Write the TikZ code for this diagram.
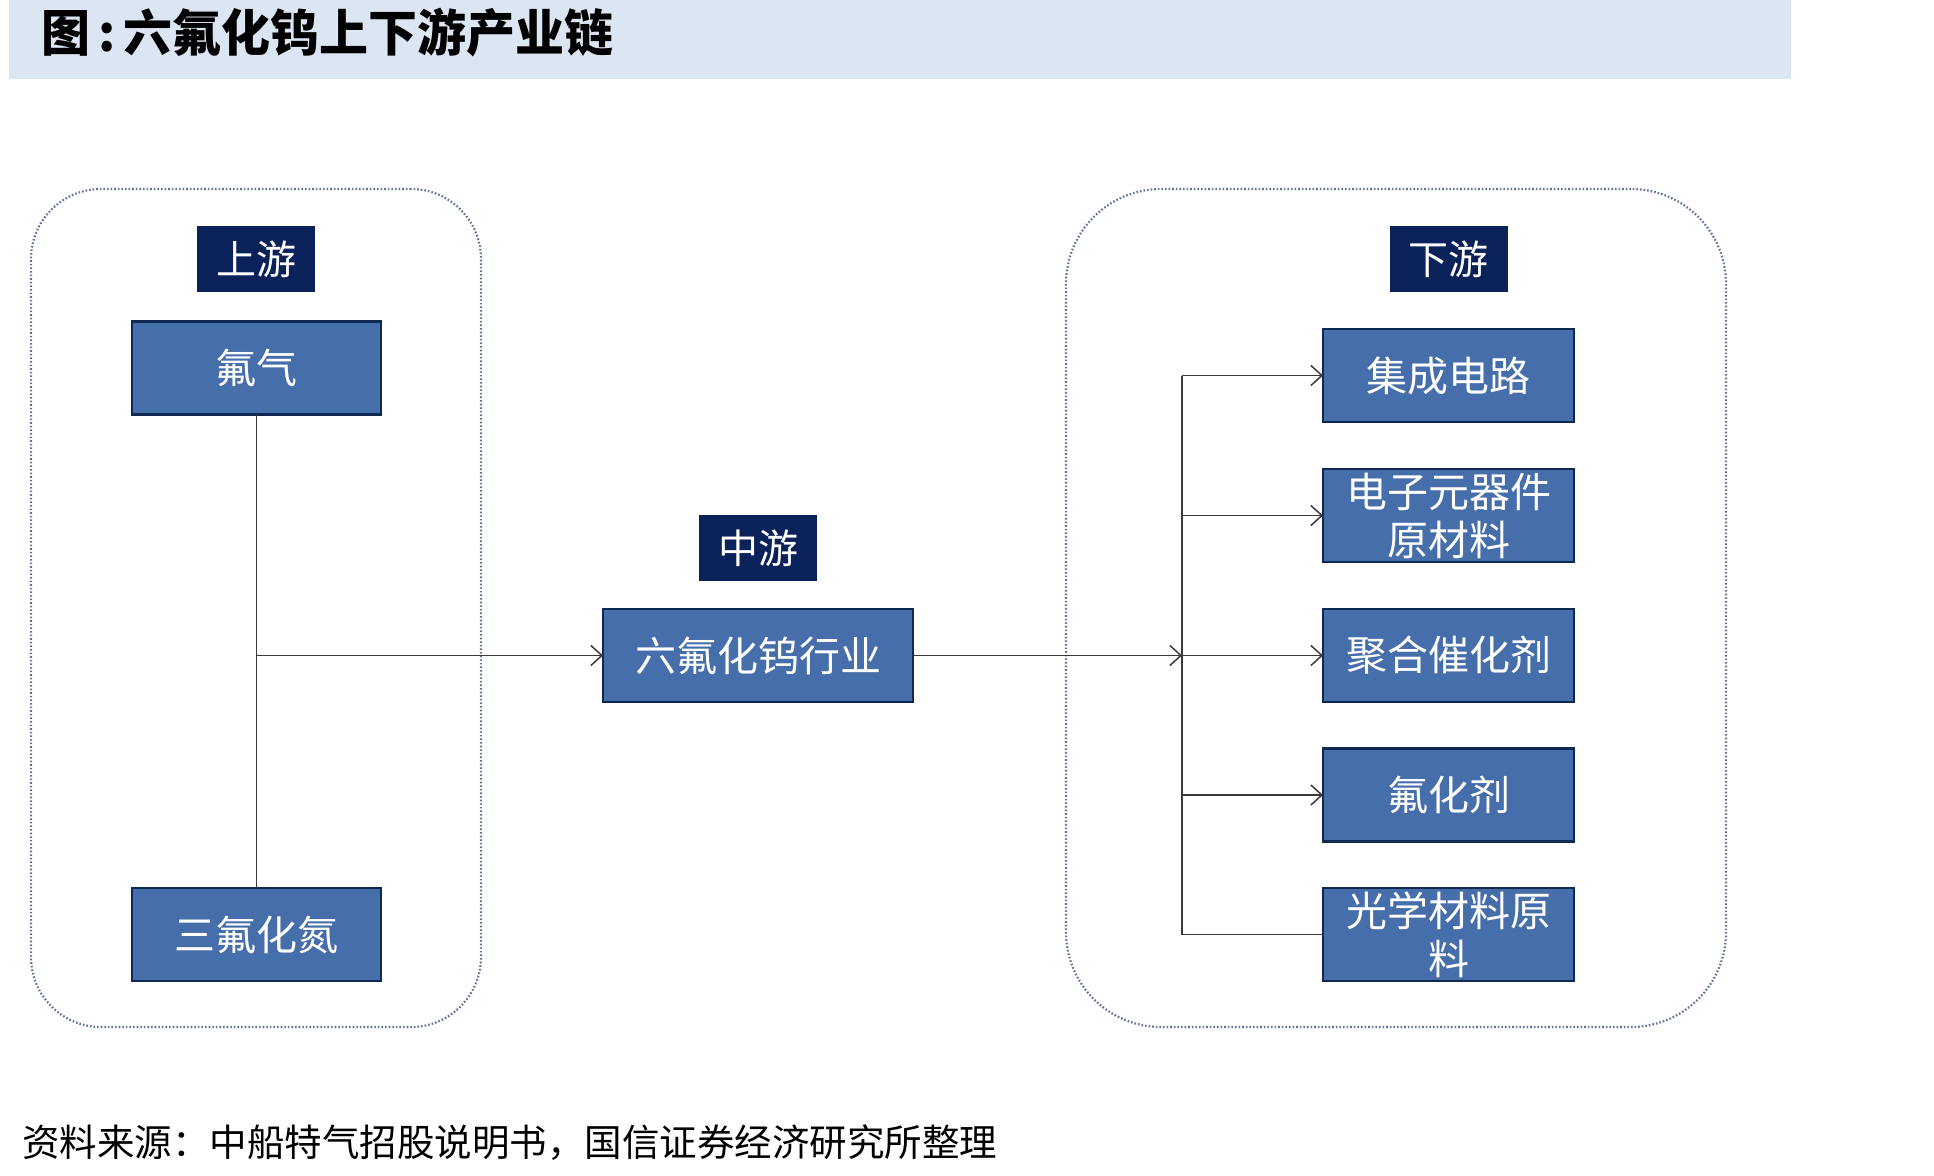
\documentclass[tikz,border=0pt]{standalone}
\usepackage{fontspec}
\newfontfamily\cjk{Noto Sans CJK SC}
\usetikzlibrary{arrows.meta}
\definecolor{band}{HTML}{DCE6F2}
\definecolor{boxfill}{HTML}{466EAA}
\definecolor{boxedge}{HTML}{0E2A52}
\definecolor{navy}{HTML}{0A215A}
\definecolor{dotcol}{HTML}{5F7396}
\definecolor{linecol}{HTML}{3A3A3A}
\begin{document}
\begin{tikzpicture}[x=1pt,y=-1pt,
  box/.style={draw=boxedge, line width=2.5pt, fill=boxfill, minimum width=249pt, minimum height=93pt, inner sep=0pt, outer sep=0pt, text=white, font=\cjk\fontsize{41}{48}\selectfont, align=center},
  lab/.style={fill=navy, minimum width=118pt, minimum height=66pt, inner sep=0pt, text=white, font=\cjk\fontsize{40}{48}\selectfont},
  grp/.style={draw=dotcol, line width=2.2pt, dash pattern=on 1.6pt off 2pt, inner sep=0pt},
  conn/.style={draw=linecol, line width=1.5pt},
  arr/.style={conn, -{Straight Barb[length=11pt,width=20pt,line width=1.5pt]}}]
\useasboundingbox (0,0) rectangle (1934,1175);
% title band
\node[fill=band, minimum width=1782pt, minimum height=79pt, inner sep=0pt, anchor=north west] (bandbox) at (9,0) {};
\node[anchor=west, inner sep=0pt, font=\cjk\bfseries\fontsize{50}{56}\selectfont] (title) at (41,33) {\scalebox{0.98}[1.0]{图\,:\,六氟化钨上下游产业链}};
% groups
\node[grp, rounded corners=70pt, minimum width=450pt, minimum height=838pt] (G1) at (256,608) {};
\node[grp, rounded corners=95pt, minimum width=660pt, minimum height=838pt] (G2) at (1396,608) {};
% labels
\node[lab] (up) at (256,259) {上游};
\node[lab] (midlab) at (758,548) {中游};
\node[lab] (down) at (1448.5,259) {下游};
% upstream boxes
\node[box] (u1) at (256.5,368) {氟气};
\node[box] (u2) at (256.5,934.5) {三氟化氮};
% midstream
\node[box, minimum width=310pt] (mid) at (758,655.5) {六氟化钨行业};
% downstream
\node[box, minimum width=251pt] (d1) at (1448.5,375.5) {集成电路};
\node[box, minimum width=251pt] (d2) at (1448.5,515.5) {电子元器件\\原材料};
\node[box, minimum width=251pt] (d3) at (1448.5,655.5) {聚合催化剂};
\node[box, minimum width=251pt] (d4) at (1448.5,795) {氟化剂};
\node[box, minimum width=251pt] (d5) at (1448.5,934.5) {光学材料原\\料};
\draw[boxedge, line width=2.5pt] (d2.north west) rectangle (d2.south east);
\draw[boxedge, line width=2.5pt] (d5.north west) rectangle (d5.south east);
% connectors
\coordinate (bus) at (1182,655.5);
\draw[conn] (u1.south) -- (u2.north);
\draw[arr] (u1.south |- mid.west) -- (mid.west);
\draw[arr] (mid.east) -- (bus);
\draw[conn] (d5.west) -- (bus |- d5.west) -- (bus |- d1.west);
\draw[arr] (bus |- d1.west) -- (d1.west);
\draw[arr] (bus |- d2.west) -- (d2.west);
\draw[arr] (bus |- d3.west) -- (d3.west);
\draw[arr] (bus |- d4.west) -- (d4.west);
% footer
\node[anchor=west, inner sep=0pt, font=\cjk\fontsize{37.5}{40}\selectfont] (foot) at (22,1143) {资料来源：中船特气招股说明书，国信证券经济研究所整理};
\end{tikzpicture}
\end{document}
